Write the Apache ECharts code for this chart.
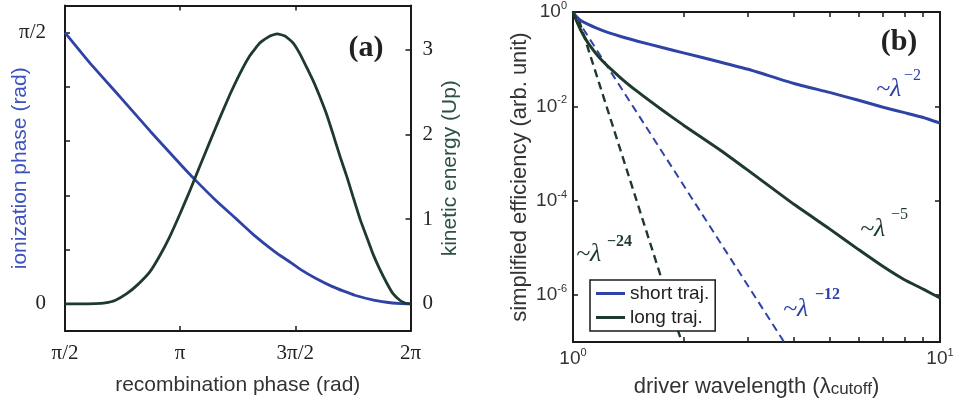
<!DOCTYPE html>
<html>
<head>
<meta charset="utf-8">
<script src="https://cdn.jsdelivr.net/npm/echarts@6/dist/echarts.min.js"></script>
<style>
  html, body { margin: 0; padding: 0; background: #fff; }
  #chart { width: 954px; height: 404px; }
</style>
</head>
<body>
<div id="chart"></div>
<script>
// ---------- panel (a): classical electron trajectories ----------
// recombination phase, in units of π
const recombPhaseIon = [0.5, 0.605, 0.738, 0.870, 1.007, 1.064, 1.154, 1.240, 1.319, 1.413, 1.470, 1.522, 1.586, 1.661, 1.710, 1.758, 1.845, 1.921, 1.960, 2.0];
// ionization phase, in units of π
const ionizationPhase = [0.5, 0.4456, 0.382, 0.3183, 0.2546, 0.229, 0.191, 0.158, 0.1273, 0.0955, 0.079, 0.0637, 0.0478, 0.0318, 0.0235, 0.0159, 0.0064, 0.0016, 0.0004, 0];

const recombPhaseKE = [0.500, 0.565, 0.630, 0.674, 0.717, 0.768, 0.817, 0.869, 0.912, 0.956, 0.999, 1.043, 1.086, 1.130, 1.173, 1.216, 1.260, 1.303, 1.347, 1.390, 1.421, 1.455, 1.490, 1.520, 1.551, 1.581, 1.607, 1.638, 1.664, 1.694, 1.725, 1.751, 1.781, 1.811, 1.837, 1.868, 1.898, 1.924, 1.955, 1.976, 2.000];
// return kinetic energy, in Up
const kineticEnergy = [0, 0, 0.003, 0.012, 0.04, 0.12, 0.23, 0.38, 0.57, 0.80, 1.06, 1.34, 1.63, 1.92, 2.20, 2.47, 2.72, 2.93, 3.08, 3.16, 3.185, 3.16, 3.08, 2.95, 2.78, 2.61, 2.44, 2.22, 2.00, 1.74, 1.49, 1.26, 1.00, 0.78, 0.59, 0.40, 0.24, 0.12, 0.04, 0.01, 0];

const phaseTickValues = [0.5, 1, 1.5, 2];
const phaseTickText = ['π/2', 'π', '3π/2', '2π'];
const ionTickValues = [0, 0.1, 0.2, 0.3, 0.4, 0.5];
const ionLabelValues = [0, 0.5];
const ionLabelText = ['0', 'π/2'];
const energyTickValues = [0, 1, 2, 3];

// ---------- panel (b): efficiency scaling with driver wavelength ----------
const wavelength = [1, 1.02, 1.05, 1.1, 1.2, 1.35, 1.5, 1.75, 2, 2.5, 3, 4, 5, 6, 7, 8, 9, 10];
const shortEff = [1, 0.81, 0.66, 0.544, 0.407, 0.302, 0.240, 0.176, 0.136, 0.0881, 0.0610, 0.0305, 0.0197, 0.0134, 0.00955, 0.00733, 0.00579, 0.00442];
const longEff = [1, 0.676, 0.41, 0.219, 0.0933, 0.0398, 0.0204, 0.00832, 0.00398, 0.00123, 4.37e-4, 8.32e-5, 2.51e-5, 9.12e-6, 3.98e-6, 2.09e-6, 1.32e-6, 8.57e-7];
// power-law guides (λ^-12 and λ^-24)
const fit12X = [1.065, 3.76];
const fit12Y = [0.445, 1e-7];
const fit24X = [1.038, 1.978];
const fit24Y = [0.679, 1e-7];

const effTickValues = [1e-6, 1e-4, 1e-2];
const effLabelValues = [1e-6, 1e-4, 1e-2, 1];
const wlTickValues = [2, 3, 4, 5, 6, 7, 8, 9];
const wlLabelValues = [1, 10];

const zip = (xs, ys) => xs.map((x, i) => [x, ys[i]]);

const SANS = '"Liberation Sans", Arial, Helvetica, sans-serif';
const SERIF = '"Liberation Serif", "Times New Roman", serif';
const BLUE = '#2f43a6';
const GREEN = '#1e3a2e';
const FRAME = '#1a1a1a';

const line = { show: true, onZero: false, lineStyle: { color: FRAME, width: 2 } };
const tick = (values) => ({ show: true, inside: true, length: 5, customValues: values, lineStyle: { color: FRAME, width: 1.5 } });

const powLabel = (v) => {
  const e = Math.round(Math.log10(v));
  return '{b|10}{e|' + e + '}';
};
const powRich = {
  b: { fontFamily: SANS, fontSize: 19, color: '#333' },
  e: { fontFamily: SANS, fontSize: 11, color: '#333', padding: [0, 0, 12, 0] }
};

const chart = echarts.init(document.getElementById('chart'), null, { renderer: 'canvas' });

chart.setOption({
  animation: false,
  backgroundColor: '#fff',
  grid: [
    { left: 65, top: 5.5, width: 345.5, height: 325.5, outerBoundsMode: 'none' },
    { left: 573, top: 12, width: 367, height: 330, outerBoundsMode: 'none' }
  ],
  legend: {
    data: ['short traj.', 'long traj.'],
    orient: 'vertical',
    left: 590, top: 280,
    icon: 'rect',
    itemWidth: 29, itemHeight: 3, itemGap: 5,
    padding: [4, 6, 4, 6],
    backgroundColor: '#fff',
    borderColor: FRAME, borderWidth: 1.5, borderRadius: 0,
    textStyle: { fontFamily: SANS, fontSize: 19, color: '#222' },
    selectedMode: false
  },
  xAxis: [
    {
      gridIndex: 0, type: 'value', position: 'bottom', min: 0.5, max: 2, interval: 0.5,
      axisLine: line, axisTick: tick(phaseTickValues), splitLine: { show: false },
      axisLabel: {
        customValues: phaseTickValues, margin: 12,
        fontFamily: SERIF, fontSize: 21, color: '#222',
        formatter: (v) => phaseTickText[phaseTickValues.indexOf(v)]
      },
      name: 'recombination phase (rad)', nameLocation: 'middle', nameGap: 44, nameMoveOverlap: false,
      nameTextStyle: { fontFamily: SANS, fontSize: 21, color: '#333' }
    },
    {
      gridIndex: 0, type: 'value', position: 'top', min: 0.5, max: 2, interval: 0.5,
      axisLine: line, axisTick: tick(phaseTickValues), splitLine: { show: false },
      axisLabel: { show: false }
    },
    {
      gridIndex: 1, type: 'log', logBase: 10, position: 'bottom', min: 1, max: 10,
      axisLine: line, axisTick: tick(wlTickValues), splitLine: { show: false }, minorTick: { show: false },
      axisLabel: {
        customValues: wlLabelValues, margin: 5, showMinLabel: true, showMaxLabel: true,
        formatter: powLabel, rich: powRich
      },
      name: '{n|driver wavelength (}{l|λ}{s|cutoff}{n|)}', nameLocation: 'middle', nameGap: 33, nameMoveOverlap: false,
      nameTextStyle: {
        rich: {
          n: { fontFamily: SANS, fontSize: 22, color: '#333' },
          l: { fontFamily: SANS, fontSize: 22, color: '#333' },
          s: { fontFamily: SANS, fontSize: 17, color: '#333', padding: [6, 0, 0, 0] }
        }
      }
    },
    {
      gridIndex: 1, type: 'log', logBase: 10, position: 'top', min: 1, max: 10,
      axisLine: line, axisTick: tick(wlTickValues), splitLine: { show: false },
      axisLabel: { show: false }
    }
  ],
  yAxis: [
    {
      gridIndex: 0, type: 'value', position: 'left', min: -0.05, max: 0.55,
      axisLine: line, axisTick: tick(ionTickValues), splitLine: { show: false },
      axisLabel: {
        customValues: ionLabelValues, margin: 19,
        fontFamily: SERIF, fontSize: 21, color: '#222',
        formatter: (v) => ionLabelText[ionLabelValues.indexOf(v)]
      },
      name: 'ionization phase (rad)', nameLocation: 'middle', nameGap: 34, nameMoveOverlap: false,
      nameTextStyle: { fontFamily: SANS, fontSize: 21, color: '#3d52bd' }
    },
    {
      gridIndex: 0, type: 'value', position: 'right', min: -0.32, max: 3.52,
      axisLine: line, axisTick: tick(energyTickValues), splitLine: { show: false },
      axisLabel: {
        customValues: energyTickValues, margin: 12,
        fontFamily: SERIF, fontSize: 21, color: '#222'
      },
      name: 'kinetic energy (Up)', nameLocation: 'middle', nameGap: 29, nameMoveOverlap: false,
      nameTextStyle: { fontFamily: SANS, fontSize: 21, color: '#2c5046' }
    },
    {
      gridIndex: 1, type: 'log', logBase: 10, position: 'left', min: 1e-7, max: 1,
      axisLine: line, axisTick: tick(effTickValues), splitLine: { show: false },
      axisLabel: {
        customValues: effLabelValues, margin: 6, showMaxLabel: true,
        formatter: powLabel, rich: powRich
      },
      name: 'simplified efficiency (arb. unit)', nameLocation: 'middle', nameGap: 42, nameMoveOverlap: false,
      nameTextStyle: { fontFamily: SANS, fontSize: 22, color: '#333' }
    },
    {
      gridIndex: 1, type: 'log', logBase: 10, position: 'right', min: 1e-7, max: 1,
      axisLine: line, axisTick: tick(effTickValues), splitLine: { show: false },
      axisLabel: { show: false }
    }
  ],
  series: [
    {
      type: 'line', name: 'ionization phase', xAxisIndex: 0, yAxisIndex: 0,
      data: zip(recombPhaseIon, ionizationPhase),
      symbol: 'none', smooth: 0.15,
      lineStyle: { color: BLUE, width: 2.8 }, itemStyle: { color: BLUE }
    },
    {
      type: 'line', name: 'kinetic energy', xAxisIndex: 0, yAxisIndex: 1,
      data: zip(recombPhaseKE, kineticEnergy),
      symbol: 'none', smooth: 0.15,
      lineStyle: { color: GREEN, width: 2.8 }, itemStyle: { color: GREEN }
    },
    {
      type: 'line', name: 'λ^-12', xAxisIndex: 2, yAxisIndex: 2,
      data: zip(fit12X, fit12Y), symbol: 'none',
      lineStyle: { color: BLUE, width: 2, type: [8, 5] }, itemStyle: { color: BLUE }
    },
    {
      type: 'line', name: 'λ^-24', xAxisIndex: 2, yAxisIndex: 2,
      data: zip(fit24X, fit24Y), symbol: 'none',
      lineStyle: { color: GREEN, width: 2.4, type: [8, 5] }, itemStyle: { color: GREEN }
    },
    {
      type: 'line', name: 'short traj.', xAxisIndex: 2, yAxisIndex: 2,
      data: zip(wavelength, shortEff), symbol: 'none', smooth: 0.15,
      lineStyle: { color: BLUE, width: 3 }, itemStyle: { color: BLUE }
    },
    {
      type: 'line', name: 'long traj.', xAxisIndex: 2, yAxisIndex: 2,
      data: zip(wavelength, longEff), symbol: 'none', smooth: 0.15,
      lineStyle: { color: GREEN, width: 3 }, itemStyle: { color: GREEN }
    }
  ],
  graphic: [
    { type: 'text', x: 366, y: 48, z: 100, style: { text: '(a)', font: 'bold 30px ' + SERIF, fill: '#222', textAlign: 'center', textVerticalAlign: 'middle' } },
    { type: 'text', x: 899, y: 42, z: 100, style: { text: '(b)', font: 'bold 30px ' + SERIF, fill: '#222', textAlign: 'center', textVerticalAlign: 'middle' } },

    { type: 'text', x: 876, y: 89, z: 100, style: { text: '~λ', font: 'italic 26px ' + SERIF, fill: BLUE, textAlign: 'left', textVerticalAlign: 'middle' } },
    { type: 'text', x: 904, y: 76, z: 100, style: { text: '−2', font: '16px ' + SERIF, fill: BLUE, textAlign: 'left', textVerticalAlign: 'middle' } },

    { type: 'text', x: 860, y: 229, z: 100, style: { text: '~λ', font: 'italic 26px ' + SERIF, fill: GREEN, textAlign: 'left', textVerticalAlign: 'middle' } },
    { type: 'text', x: 891, y: 215, z: 100, style: { text: '−5', font: '16px ' + SERIF, fill: GREEN, textAlign: 'left', textVerticalAlign: 'middle' } },

    { type: 'text', x: 783, y: 309, z: 100, style: { text: '~λ', font: 'italic 26px ' + SERIF, fill: BLUE, textAlign: 'left', textVerticalAlign: 'middle' } },
    { type: 'text', x: 815, y: 295, z: 100, style: { text: '−12', font: 'bold 16px ' + SERIF, fill: BLUE, textAlign: 'left', textVerticalAlign: 'middle' } },

    { type: 'text', x: 576, y: 254, z: 100, style: { text: '~λ', font: 'italic 26px ' + SERIF, fill: GREEN, textAlign: 'left', textVerticalAlign: 'middle' } },
    { type: 'text', x: 607, y: 242, z: 100, style: { text: '−24', font: 'bold 16px ' + SERIF, fill: GREEN, textAlign: 'left', textVerticalAlign: 'middle' } }
  ]
});
</script>
</body>
</html>
